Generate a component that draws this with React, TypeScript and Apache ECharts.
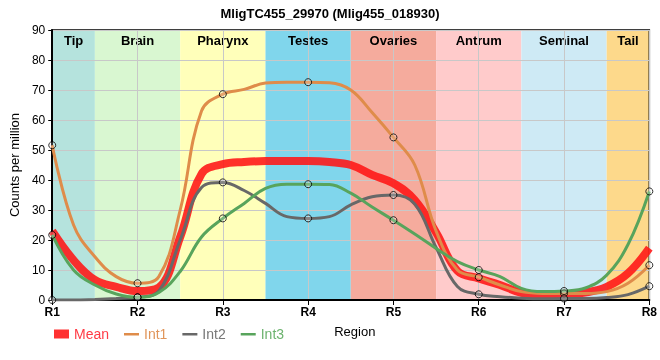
import React, { useEffect, useRef } from "react";
import * as echarts from "echarts";

const titleText = "MligTC455_29970 (Mlig455_018930)";
const xTickLabels = ["R1", "R2", "R3", "R4", "R5", "R6", "R7", "R8"];
const regionNames = ["Tip", "Brain", "Pharynx", "Testes", "Ovaries", "Antrum", "Seminal", "Tail"];
const regionColors = ["#b5e3dd", "#d9f7d1", "#ffffba", "#80d6ec", "#f5ab9d", "#ffcbcb", "#ceeaf5", "#fdd98b"];

// sample positions along the body (R1 = 1 ... R8 = 8)
const xs = [1, 1.25, 1.5, 1.75, 2, 2.25, 2.5, 2.75, 3, 3.25, 3.5, 3.75, 4, 4.25, 4.5, 4.75, 5, 5.25, 5.5, 5.75, 6, 6.25, 6.5, 6.75, 7, 7.25, 7.5, 7.75, 8];
const meanVals = [23, 13.3, 6.7, 4.4, 3.0, 4.2, 21, 42, 45.3, 46, 46.3, 46.3, 46.3, 46, 45, 41.7, 38.9, 33.3, 22.5, 9.7, 7.2, 5, 2.4, 1.5, 1.8, 2.5, 4.4, 8.9, 17.3];
const int1Vals = [51.6, 25, 14.4, 7.8, 5.6, 7.8, 30, 63, 68.6, 70.2, 72.3, 72.6, 72.6, 72.4, 70, 62.5, 54.2, 45, 23, 10, 7.6, 5, 2.8, 2.2, 2.2, 2.2, 2.8, 5.6, 11.6];
const int2Vals = [0, 0, 0.2, 0.5, 0.9, 3, 20, 37.5, 39.2, 36.5, 32.2, 27.8, 27.2, 27.8, 31.7, 34.4, 35, 32, 17.5, 4.5, 1.9, 1.1, 0.6, 0.4, 0.5, 0.5, 0.8, 1.8, 4.6];
const int3Vals = [21.7, 10, 5, 2, 0.9, 2.5, 9.5, 21, 27.2, 32.2, 37.2, 38.6, 38.6, 38.5, 35.6, 31, 26.6, 22, 17.2, 12.8, 10, 7.8, 3.9, 2.8, 3.0, 4, 8.3, 18.5, 36.2];

const seriesNames = ["Mean", "Int1", "Int2", "Int3"];
const seriesColors = ["rgba(255,20,20,0.88)", "#df8c4a", "#686868", "#58a45c"];
const legendTextColors = ["#ff3b45", "#e0955a", "#777777", "#6db36f"];

const FONT = "'Liberation Sans', Arial, sans-serif";
const LINE_ICON = "path://M0,0 M15,9 M0,3.5 L15,3.5 L15,6 L0,6 Z";

export default function App() {
  const ref = useRef<HTMLDivElement>(null);
  useEffect(() => {
    if (!ref.current) return;
    const chart = echarts.init(ref.current, undefined, { renderer: "svg" });
    const allVals = [meanVals, int1Vals, int2Vals, int3Vals];
    const bands = regionNames.map((name, i) => [
      {
        name,
        xAxis: Math.max(1, i + 0.5),
        itemStyle: { color: regionColors[i], opacity: 1 },
      },
      { xAxis: Math.min(8, i + 1.5) },
    ]);
    const lineSeries = allVals.map((vals, k) => ({
      type: "line",
      name: seriesNames[k],
      data: xs.map((x, i) => [x, vals[i]]),
      smooth: 0.4,
      symbol: "none",
      z: k === 0 ? 3 : 4,
      lineStyle: { color: seriesColors[k], width: k === 0 ? 8 : 3 },
      itemStyle: { color: seriesColors[k] },
    }));
    const pointSeries = allVals.slice(1).map((vals, k) => ({
      type: "scatter",
      name: "pts" + (k + 1),
      data: xs.map((x, i) => [x, vals[i]]).filter((p) => Number.isInteger(p[0])),
      symbol: "circle",
      symbolSize: 7,
      z: 6,
      itemStyle: { color: "rgba(255,255,255,0.25)", borderColor: "#000", borderWidth: 1 },
    }));
    chart.setOption({
      animation: false,
      title: {
        text: titleText,
        left: "center",
        top: 2,
        textStyle: { fontFamily: FONT, fontSize: 13, fontWeight: "bold", color: "#000" },
      },
      grid: { left: 50, right: 10, top: 30, bottom: 60, show: true, borderColor: "#000", borderWidth: 1.5, z: 2 },
      legend: {
        left: 49,
        top: 322,
        itemWidth: 15,
        itemHeight: 9,
        itemGap: 15,
        textStyle: { fontFamily: FONT, fontSize: 14 },
        data: seriesNames.map((n, k) => ({
          name: n,
          icon: k === 0 ? "rect" : LINE_ICON,
          itemStyle: { color: seriesColors[k] },
          textStyle: { color: legendTextColors[k] },
        })),
      },
      xAxis: {
        type: "value",
        min: 1,
        max: 8,
        interval: 1,
        z: 2,
        name: "Region",
        nameLocation: "middle",
        nameGap: 25,
        nameTextStyle: { fontFamily: FONT, fontSize: 13, color: "#000", padding: [0, 0, 0, 8] },
        axisLine: { show: true, lineStyle: { color: "#000", width: 2 } },
        axisTick: { show: true, length: 5, lineStyle: { color: "#000" } },
        axisLabel: {
          fontFamily: FONT,
          fontSize: 12,
          fontWeight: "bold",
          color: "#000",
          margin: 6,
          formatter: (v: number) => xTickLabels[Math.round(v) - 1] ?? "",
        },
        splitLine: { show: true, lineStyle: { color: "#c8c8c8", width: 1 } },
      },
      yAxis: {
        type: "value",
        min: 0,
        max: 90,
        interval: 10,
        z: 2,
        name: "Counts per million",
        nameLocation: "middle",
        nameGap: 23,
        nameTextStyle: { fontFamily: FONT, fontSize: 13, color: "#000" },
        axisLine: { show: true, lineStyle: { color: "#000", width: 2 } },
        axisTick: { show: true, length: 4, lineStyle: { color: "#000" } },
        axisLabel: { fontFamily: FONT, fontSize: 12, color: "#000", margin: 7 },
        splitLine: { show: true, lineStyle: { color: "#c8c8c8", width: 1 } },
      },
      series: [
        {
          type: "line",
          name: "bands",
          data: [],
          z: 1,
          silent: true,
          markArea: {
            silent: true,
            label: {
              show: true,
              position: "insideTop",
              distance: 4,
              fontFamily: FONT,
              fontSize: 13,
              fontWeight: "bold",
              color: "#000",
            },
            data: bands,
          },
        },
        ...lineSeries,
        ...pointSeries,
      ],
    });
    return () => chart.dispose();
  }, []);
  return <div ref={ref} style={{ position: "fixed", left: 0, top: 0, width: 660, height: 360 }} />;
}
